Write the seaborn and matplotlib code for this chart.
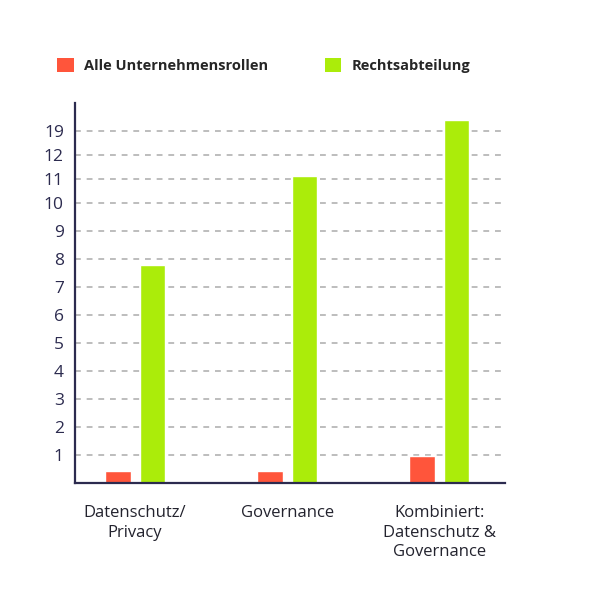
import pandas as pd
import matplotlib.pyplot as plt
import seaborn as sns
from matplotlib.patches import Patch

categories = ["Datenschutz/\nPrivacy", "Governance", "Kombiniert:\nDatenschutz &\nGovernance"]
series = ["Alle Unternehmensrollen", "Rechtsabteilung"]
alle_werte = [0.44, 0.44, 0.97]
recht_werte = [7.8, 10.98, 12.98]
# the axis in the original is not linear: labels sit on evenly spaced grid lines
tick_pos = [1, 2, 3, 4, 5, 6, 7, 8, 9, 10, 10.87, 11.72, 12.56]
tick_labels = ["1", "2", "3", "4", "5", "6", "7", "8", "9", "10", "11", "12", "19"]

rows = []
for cat, a, r in zip(categories, alle_werte, recht_werte):
    rows.append({"kategorie": cat, "gruppe": series[0], "wert": a})
    rows.append({"kategorie": cat, "gruppe": series[1], "wert": r})
df = pd.DataFrame(rows)

palette = {series[0]: "#FF553B", series[1]: "#ABEC0A"}
navy = "#2C2B4F"

sns.set_style("white")
plt.rcParams["font.family"] = ["Open Sans", "DejaVu Sans"]

fig = plt.figure(figsize=(6, 5.91), dpi=100)
ax = fig.add_axes([0.125, 0.183, 0.717, 0.643])
sns.barplot(data=df, x="kategorie", y="wert", hue="gruppe", palette=palette,
            width=0.45, gap=0.26, saturation=1, ax=ax, legend=False, zorder=3)

ax.set_xlim(-0.395, 2.434)
ax.set_ylim(0, 13.58)
ax.set_yticks(tick_pos)
ax.set_yticklabels(tick_labels)
ax.set_xlabel("")
ax.set_ylabel("")
ax.yaxis.grid(True, linestyle=(0, (3, 3)), color="#BDBDBD", linewidth=1.4, zorder=0)
ax.xaxis.grid(False)
ax.tick_params(axis="y", length=0, labelsize=12.5, labelcolor=navy, pad=8)
ax.tick_params(axis="x", length=0, labelsize=12, labelcolor="#23232E", pad=16)
for lbl in ax.get_xticklabels():
    lbl.set_linespacing(1.3)
for side in ["top", "right"]:
    ax.spines[side].set_visible(False)
for side in ["left", "bottom"]:
    ax.spines[side].set_color(navy)
    ax.spines[side].set_linewidth(1.6)
    ax.spines[side].set_zorder(4)

handles = [Patch(facecolor=palette[s], edgecolor="none") for s in series]
fig.legend(handles, series, loc="center left", bbox_to_anchor=(0.073, 0.889),
           ncol=2, frameon=False, handlelength=1.15, handleheight=1.15,
           handletextpad=0.68, columnspacing=3.9,
           prop={"weight": "bold", "size": 10.5})

fig.savefig("out.png", dpi=100)
